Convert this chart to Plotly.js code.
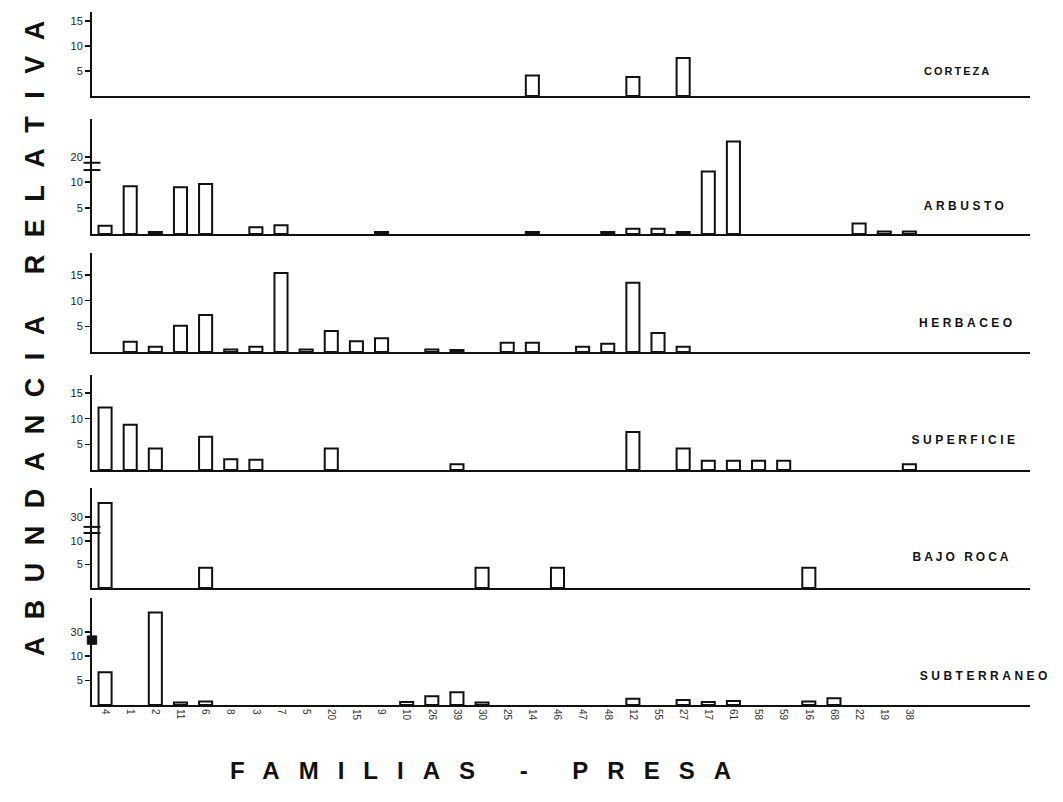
<!DOCTYPE html>
<html>
<head>
<meta charset="utf-8">
<script src="https://cdn.plot.ly/plotly-3.0.1.min.js"></script>
<style>
html,body{margin:0;padding:0;background:#fff;}
#chart{width:1063px;height:802px;}
</style>
</head>
<body>
<div id="chart"></div>
<script>
// Prey families (x categories, in the order printed on the axis)
const categories = ["4","1","2","11","6","8","3","7","5","20","15","9","10","26","39","30","25","14","46","47","48","12","55","27","17","61","58","59","16","68","22","19","38"];

// Relative abundance per microhabitat (null = no bar)
const corteza     = [null,null,null,null,null,null,null,null,null,null,null,null,null,null,null,null,null,4.1,null,null,null,3.8,null,7.6,null,null,null,null,null,null,null,null,null];
const arbusto     = [1.6,9.2,0.4,9.0,9.6,null,1.3,1.7,null,null,null,0.4,null,null,null,null,null,0.4,null,null,0.4,1.0,1.0,0.4,12,23,null,null,null,null,2.0,0.5,0.5];
const herbaceo    = [null,2.0,1.0,5.1,7.2,0.5,1.0,15.4,0.5,4.1,2.1,2.7,null,0.5,0.4,null,1.8,1.8,null,1.0,1.6,13.5,3.7,1.0,null,null,null,null,null,null,null,null,null];
const superficie  = [12.2,8.8,4.2,null,6.5,2.1,2.0,null,null,4.2,null,null,null,null,1.1,null,null,null,null,null,null,7.4,null,4.2,1.8,1.8,1.8,1.8,null,null,null,null,1.1];
const bajoRoca    = [33,null,null,null,4.3,null,null,null,null,null,null,null,null,null,null,4.3,null,null,4.3,null,null,null,null,null,null,null,null,null,4.3,null,null,null,null];
const subterraneo = [6.7,null,34,0.5,0.7,null,null,null,null,null,null,null,0.6,1.8,2.6,0.5,null,null,null,null,null,1.3,null,1.0,0.6,0.8,null,null,0.7,1.4,null,null,null];

const panelNames = ["CORTEZA","ARBUSTO","HERBACEO","SUPERFICIE","BAJO ROCA","SUBTERRANEO"];
const panelTicks = [[5,10,15],[5,10,20],[5,10,15],[5,10,15],[5,10,30],[5,10,30]];

// ---- layout helpers (pixel geometry of the figure) ----
const W = 1063, H = 802;
const mL = 92, mR = 33, mT = 12, mB = 97;
const plotW = W - mL - mR, plotH = H - mT - mB;
const py = p => (H - mB - p) / plotH;     // pixel y -> paper y
const px = p => (p - mL) / plotW;         // pixel x -> paper x

// panels: baseline pixel, top pixel, broken-axis settings
const geo = [
  {base:96,  top:12,  brk:null},
  {base:234, top:119, brk:{from:15, shift:5.2, marks:[12.3,13.7], kind:'lines'}},
  {base:352, top:253, brk:null},
  {base:470, top:375, brk:null},
  {base:588, top:488, brk:{from:20, shift:14.9, marks:[11.7,13.0], kind:'lines'}},
  {base:705, top:598, brk:{from:20, shift:15.1, marks:[12.4,14.1], kind:'box'}}
];
const unit = [5.0, 5.2, 5.13, 5.13, 4.7, 4.9];

function disp(v, g){
  if (v === null) return null;
  if (g.brk && v >= g.brk.from) return v - g.brk.shift;
  return v;
}

const series = [corteza, arbusto, herbaceo, superficie, bajoRoca, subterraneo];
const traces = [];
const layout = {
  width: W, height: H,
  margin: {l:mL, r:mR, t:mT, b:mB},
  paper_bgcolor:'#fff', plot_bgcolor:'rgba(0,0,0,0)',
  showlegend:false, bargap:0.48,
  font:{family:'Liberation Sans, Arial, sans-serif', color:'#111'},
  annotations:[], shapes:[]
};

const xRange = [-0.52, 36.8];

series.forEach((vals, i) => {
  const g = geo[i];
  const s = i+1;
  const xa = 'x' + (s===1?'':s), ya = 'y' + (s===1?'':s);
  traces.push({
    type:'bar', x: categories, y: vals.map(v => disp(v, g)),
    xaxis: xa, yaxis: ya,
    marker:{color:'#fff', line:{color:'#111', width:2}},
    width:0.52, hoverinfo:'skip'
  });
  const yTop = (g.base - g.top) / unit[i];
  layout['yaxis' + (s===1?'':s)] = {
    domain:[py(g.base), py(g.top)], anchor: xa,
    range:[0, yTop], showgrid:false, zeroline:false,
    showline:true, linecolor:'#111', linewidth:2,
    ticks:'outside', ticklen:5, tickwidth:1.5, tickcolor:'#111',
    tickvals: panelTicks[i].map(v => disp(v, g)),
    ticktext: panelTicks[i].map(String),
    tickfont:{size:11, color:'#222', family:'Liberation Sans, Arial, sans-serif'},
    fixedrange:true
  };
  const xo = {
    domain:[0,1], anchor: ya, type:'category',
    categoryorder:'array', categoryarray: categories,
    range: xRange, showgrid:false, zeroline:false,
    showline:true, linecolor:'#111', linewidth:2,
    ticks:'', fixedrange:true
  };
  if (s !== 1) xo.matches = 'x';
  if (i === 5) {
    xo.showticklabels = true; xo.tickangle = 90;
    xo.tickfont = {size:10, color:'#333', family:'Liberation Sans, Arial, sans-serif'};
  } else {
    xo.showticklabels = false;
  }
  layout['xaxis' + (s===1?'':s)] = xo;

  // axis-break marks
  if (g.brk) {
    if (g.brk.kind === 'lines') {
      g.brk.marks.forEach(m => layout.shapes.push({
        type:'line', xref: xa + ' domain', yref: ya,
        x0:-0.009, x1:0.009, y0:m, y1:m, line:{color:'#111', width:2}
      }));
    } else {
      layout.shapes.push({
        type:'rect', xref: xa + ' domain', yref: ya,
        x0:-0.005, x1:0.005, y0:g.brk.marks[0], y1:g.brk.marks[1],
        fillcolor:'#111', line:{color:'#111', width:1}
      });
    }
  }
});

// panel labels
const labelPos = [[957,71,11],[965,206,12],[967,323,12],[965,440,12],[962,557,12],[985,676,12]];
panelNames.forEach((n,i) => {
  layout.annotations.push({
    text:n, xref:'paper', yref:'paper', x:px(labelPos[i][0]), y:py(labelPos[i][1]),
    xanchor:'center', yanchor:'middle', showarrow:false,
    font:{size:labelPos[i][2], family:'Liberation Sans, Arial, sans-serif', color:'#111', weight:'bold'}
  });
});
// axis titles
layout.annotations.push({
  text:'ABUNDANCIA RELATIVA', xref:'paper', yref:'paper', x:px(35), y:py(330),
  xanchor:'center', yanchor:'middle', textangle:-90, showarrow:false,
  font:{size:27, family:'Liberation Sans, Arial, sans-serif', color:'#111', weight:'bold'}
});
layout.annotations.push({
  text:'FAMILIAS - PRESA', xref:'paper', yref:'paper', x:px(490), y:py(770),
  xanchor:'center', yanchor:'middle', showarrow:false,
  font:{size:24, family:'Liberation Sans, Arial, sans-serif', color:'#111', weight:'bold'}
});

const spacing = ['2px','3.5px','3.5px','3.5px','3px','3.5px','17.5px','19px'];

Plotly.newPlot('chart', traces, layout, {staticPlot:true, displayModeBar:false}).then(gd => {
  const texts = gd.querySelectorAll('.annotation-text');
  texts.forEach((t,i) => { if (spacing[i]) t.style.letterSpacing = spacing[i]; });
});
</script>
</body>
</html>
